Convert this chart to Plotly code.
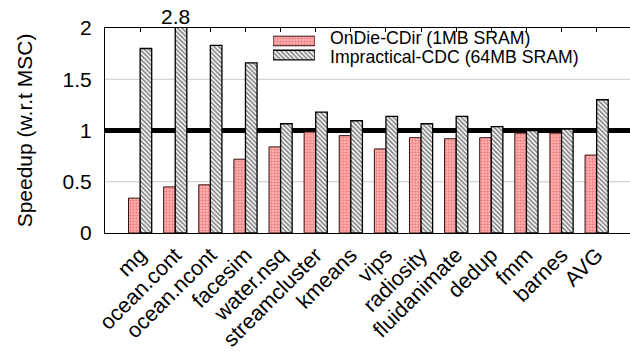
import plotly.graph_objects as go

categories = ["mg", "ocean.cont", "ocean.ncont", "facesim", "water.nsq", "streamcluster",
              "kmeans", "vips", "radiosity", "fluidanimate", "dedup", "fmm", "barnes", "AVG"]
ondie = [0.34, 0.45, 0.47, 0.72, 0.84, 0.985, 0.95, 0.82, 0.93, 0.92, 0.93, 0.975, 0.975, 0.76]
impractical = [1.80, 2.8, 1.83, 1.66, 1.066, 1.18, 1.095, 1.137, 1.066, 1.137, 1.037, 1.00, 1.014, 1.30]
series_names = ["OnDie-CDir (1MB SRAM)", "Impractical-CDC (64MB SRAM)"]
y_ticks = [0, 0.5, 1, 1.5, 2]
y_ticklabels = ["0", "0.5", "1", "1.5", "2"]
grid_levels = [0.5, 1.5]
baseline = 1

font = "Liberation Sans"
x_idx = list(range(len(categories)))

red_marker = dict(color="#ffb0b0",
                  line=dict(color="#3a1010", width=1),
                  pattern=dict(shape=".", fgcolor="#e04848", bgcolor="#ffbcbc",
                               size=3, solidity=0.5))
hatch_marker = dict(color="white",
                    line=dict(color="black", width=1.3),
                    pattern=dict(shape="\\", fgcolor="black", bgcolor="white",
                                 size=3.2, solidity=0.5))

fig = go.Figure()
fig.add_trace(go.Bar(x=x_idx, y=ondie, name=series_names[0], marker=red_marker))
fig.add_trace(go.Bar(x=x_idx, y=impractical, name=series_names[1], marker=hatch_marker))

# custom legend swatches (wide rectangles) drawn on a tiny overlay axis
fig.add_trace(go.Bar(x=[1], y=[0], orientation="h", width=0.68, marker=red_marker,
                     xaxis="x2", yaxis="y2", hoverinfo="skip"))
fig.add_trace(go.Bar(x=[1], y=[1], orientation="h", width=0.68, marker=hatch_marker,
                     xaxis="x2", yaxis="y2", hoverinfo="skip"))
legend_y = [0.949, 0.859]
for name, ly in zip(series_names, legend_y):
    fig.add_annotation(xref="paper", yref="paper", x=0.4248, y=ly, text=name, showarrow=False,
                       xanchor="left", yanchor="middle",
                       font=dict(size=17.7, family=font, color="black"))

for g in grid_levels:
    fig.add_shape(type="line", xref="paper", x0=0, x1=1, yref="y", y0=g, y1=g,
                  line=dict(color="#c8c8c8", width=1.2), layer="below")
fig.add_shape(type="line", xref="paper", x0=0, x1=1, yref="y", y0=baseline, y1=baseline,
              line=dict(color="black", width=5), layer="below")

fig.add_annotation(x=1, y=2, xref="x", yref="y", text="2.8", showarrow=False,
                   yanchor="bottom", yshift=-2, font=dict(size=21, color="black", family=font))

fig.update_layout(
    width=630, height=351,
    margin=dict(l=105, r=0, t=28, b=118),
    paper_bgcolor="white", plot_bgcolor="white",
    barmode="group", bargap=0.34, bargroupgap=0,
    font=dict(family=font, color="black"),
    showlegend=False,
    xaxis=dict(
        range=[-1, 13.95], tickmode="array", tickvals=x_idx, ticktext=categories,
        tickangle=-45, tickfont=dict(size=21.5, family=font), automargin=False,
        showline=True, linecolor="black", linewidth=1, mirror="ticks",
        ticks="inside", ticklen=4, tickcolor="black", showgrid=False, zeroline=False,
    ),
    yaxis=dict(
        range=[0, 2], tickmode="array", tickvals=y_ticks, ticktext=y_ticklabels,
        tickfont=dict(size=21, family=font), automargin=False,
        showline=True, linecolor="black", linewidth=1,
        showgrid=False, zeroline=False,
        ticks="", ticklabelstandoff=8,
        title=dict(text="Speedup (w.r.t MSC)", font=dict(size=21, family=font), standoff=24),
    ),
    xaxis2=dict(domain=[0.32, 0.40], range=[0, 1], visible=False, fixedrange=True),
    yaxis2=dict(domain=[0.834, 0.971], range=[1.5, -0.5], visible=False, fixedrange=True,
                anchor="x2"),
)

fig.write_html("out.html")
